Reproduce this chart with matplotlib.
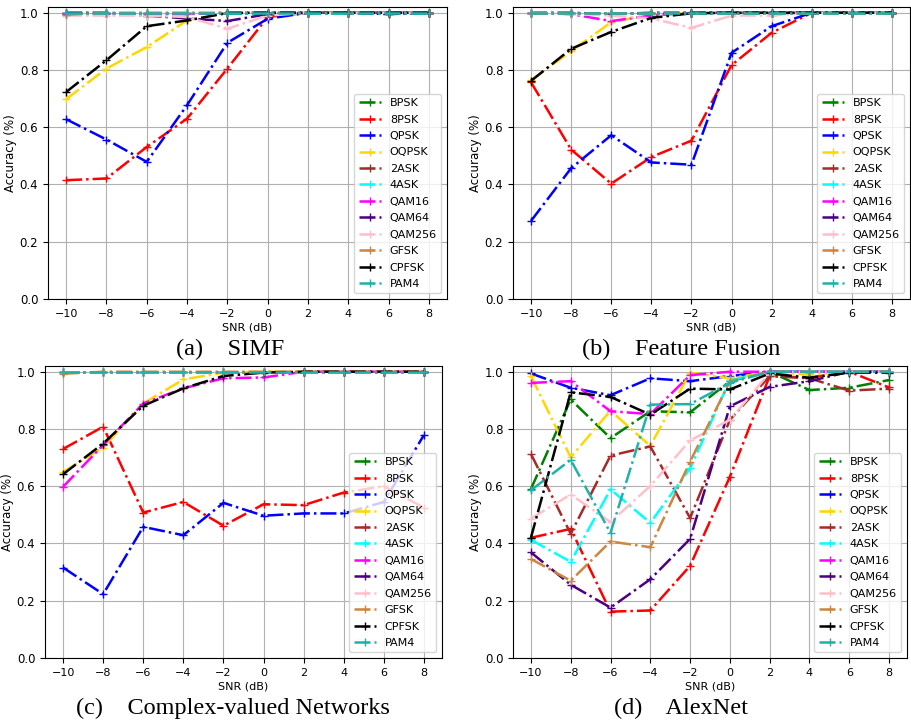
import matplotlib
matplotlib.use('Agg')
import matplotlib.pyplot as plt
import numpy as np

# SNR grid and modulation classes
snr = [-10, -8, -6, -4, -2, 0, 2, 4, 6, 8]
mods = ['BPSK', '8PSK', 'QPSK', 'OQPSK', '2ASK', '4ASK',
        'QAM16', 'QAM64', 'QAM256', 'GFSK', 'CPFSK', 'PAM4']
colors = ['green', 'red', 'blue', 'gold', 'brown', 'cyan',
          'magenta', 'indigo', 'pink', 'peru', 'black', 'lightseagreen']

# (a) SIMF
simf = {
    'BPSK':   [1.0, 1.0, 1.0, 1.0, 1.0, 1.0, 1.0, 1.0, 1.0, 1.0],
    '8PSK':   [0.415, 0.421, 0.531, 0.630, 0.805, 0.985, 1.0, 1.0, 1.0, 1.0],
    'QPSK':   [0.628, 0.557, 0.479, 0.677, 0.895, 0.979, 1.0, 1.0, 1.0, 1.0],
    'OQPSK':  [0.698, 0.805, 0.880, 0.973, 1.0, 1.0, 1.0, 1.0, 1.0, 1.0],
    '2ASK':   [1.0, 1.0, 1.0, 1.0, 1.0, 1.0, 1.0, 1.0, 1.0, 1.0],
    '4ASK':   [1.0, 1.0, 1.0, 1.0, 1.0, 1.0, 1.0, 1.0, 1.0, 1.0],
    'QAM16':  [0.995, 0.995, 0.995, 0.995, 1.0, 1.0, 1.0, 1.0, 1.0, 1.0],
    'QAM64':  [1.0, 1.0, 0.99, 0.98, 0.971, 0.995, 1.0, 1.0, 0.995, 1.0],
    'QAM256': [0.99, 0.99, 0.99, 0.985, 0.944, 0.99, 1.0, 1.0, 1.0, 1.0],
    'GFSK':   [0.993, 1.0, 1.0, 1.0, 1.0, 1.0, 1.0, 1.0, 1.0, 1.0],
    'CPFSK':  [0.723, 0.834, 0.953, 0.973, 0.999, 1.0, 1.0, 1.0, 1.0, 1.0],
    'PAM4':   [1.0, 1.0, 1.0, 1.0, 1.0, 1.0, 1.0, 1.0, 1.0, 1.0],
}

# (b) Feature Fusion
fusion = {
    'BPSK':   [1.0, 1.0, 1.0, 1.0, 1.0, 1.0, 1.0, 1.0, 1.0, 1.0],
    '8PSK':   [0.757, 0.522, 0.403, 0.496, 0.553, 0.817, 0.930, 1.0, 1.0, 1.0],
    'QPSK':   [0.273, 0.457, 0.572, 0.477, 0.469, 0.860, 0.953, 1.0, 1.0, 1.0],
    'OQPSK':  [0.764, 0.866, 0.967, 0.994, 1.0, 1.0, 1.0, 1.0, 1.0, 1.0],
    '2ASK':   [1.0, 1.0, 1.0, 1.0, 1.0, 1.0, 1.0, 1.0, 1.0, 1.0],
    '4ASK':   [1.0, 1.0, 1.0, 1.0, 1.0, 1.0, 1.0, 1.0, 1.0, 1.0],
    'QAM16':  [1.0, 0.995, 0.971, 0.99, 1.0, 1.0, 1.0, 1.0, 1.0, 1.0],
    'QAM64':  [1.0, 1.0, 0.995, 1.0, 1.0, 1.0, 1.0, 1.0, 1.0, 1.0],
    'QAM256': [1.0, 0.995, 0.99, 0.98, 0.947, 0.99, 0.99, 1.0, 1.0, 1.0],
    'GFSK':   [1.0, 1.0, 1.0, 1.0, 1.0, 1.0, 1.0, 1.0, 1.0, 1.0],
    'CPFSK':  [0.762, 0.874, 0.933, 0.982, 0.998, 1.0, 1.0, 1.0, 1.0, 1.0],
    'PAM4':   [1.0, 1.0, 1.0, 1.0, 1.0, 1.0, 1.0, 1.0, 1.0, 1.0],
}

# (c) Complex-valued Networks
complex_net = {
    'BPSK':   [1.0, 1.0, 1.0, 1.0, 1.0, 1.0, 1.0, 1.0, 1.0, 1.0],
    '8PSK':   [0.730, 0.808, 0.508, 0.545, 0.462, 0.537, 0.534, 0.578, 0.600, 0.525],
    'QPSK':   [0.316, 0.223, 0.458, 0.429, 0.542, 0.497, 0.505, 0.505, 0.545, 0.779],
    'OQPSK':  [0.650, 0.735, 0.889, 0.973, 0.997, 1.0, 1.0, 1.0, 1.0, 1.0],
    '2ASK':   [1.0, 1.0, 1.0, 1.0, 1.0, 1.0, 1.0, 1.0, 1.0, 1.0],
    '4ASK':   [1.0, 1.0, 1.0, 1.0, 1.0, 1.0, 1.0, 1.0, 1.0, 1.0],
    'QAM16':  [0.598, 0.744, 0.889, 0.942, 0.977, 0.980, 1.0, 1.0, 1.0, 1.0],
    'QAM64':  [1.0, 1.0, 1.0, 1.0, 1.0, 1.0, 1.0, 1.0, 1.0, 1.0],
    'QAM256': [1.0, 1.0, 1.0, 1.0, 1.0, 1.0, 1.0, 1.0, 1.0, 1.0],
    'GFSK':   [0.993, 1.0, 1.0, 1.0, 1.0, 1.0, 1.0, 1.0, 1.0, 1.0],
    'CPFSK':  [0.642, 0.749, 0.881, 0.942, 0.985, 0.997, 1.0, 1.0, 1.0, 1.0],
    'PAM4':   [1.0, 1.0, 1.0, 1.0, 1.0, 1.0, 1.0, 1.0, 1.0, 1.0],
}

# (d) AlexNet
alexnet = {
    'BPSK':   [0.590, 0.903, 0.768, 0.862, 0.858, 0.967, 1.0, 0.936, 0.944, 0.971],
    '8PSK':   [0.420, 0.451, 0.162, 0.166, 0.322, 0.633, 0.985, 0.979, 1.0, 0.945],
    'QPSK':   [0.994, 0.944, 0.918, 0.977, 0.967, 0.985, 1.0, 1.0, 1.0, 1.0],
    'OQPSK':  [0.985, 0.701, 0.864, 0.741, 0.997, 0.977, 1.0, 0.99, 1.0, 1.0],
    '2ASK':   [0.713, 0.434, 0.707, 0.739, 0.489, 0.832, 0.985, 0.977, 0.934, 0.941],
    '4ASK':   [0.413, 0.336, 0.589, 0.472, 0.662, 0.970, 1.0, 1.0, 1.0, 1.0],
    'QAM16':  [0.961, 0.967, 0.862, 0.852, 0.988, 1.0, 1.0, 1.0, 1.0, 1.0],
    'QAM64':  [0.369, 0.256, 0.176, 0.275, 0.416, 0.879, 0.947, 0.967, 1.0, 1.0],
    'QAM256': [0.487, 0.571, 0.475, 0.601, 0.760, 0.832, 0.997, 1.0, 1.0, 1.0],
    'GFSK':   [0.346, 0.270, 0.407, 0.387, 0.686, 0.967, 1.0, 1.0, 1.0, 1.0],
    'CPFSK':  [0.420, 0.928, 0.912, 0.850, 0.941, 0.938, 0.994, 0.979, 0.997, 0.997],
    'PAM4':   [0.586, 0.692, 0.437, 0.885, 0.887, 0.961, 1.0, 1.0, 1.0, 1.0],
}

panels = [simf, fusion, complex_net, alexnet]
captions = ['(a)    SIMF', '(b)    Feature Fusion',
            '(c)    Complex-valued Networks', '(d)    AlexNet']
caption_x = [230, 681, 233, 681]

# axes rectangles in pixels (left, top, right, bottom)
W, H = 912, 728
boxes = [(48, 7, 447, 299), (513, 7, 910, 299),
         (45, 366, 442, 658), (513, 366, 907, 658)]

fig = plt.figure(figsize=(9.12, 7.28), dpi=100)

for i, data in enumerate(panels):
    x0, y0, x1, y1 = boxes[i]
    ax = fig.add_axes([x0 / W, 1 - y1 / H, (x1 - x0) / W, (y1 - y0) / H])
    for m, c in zip(mods, colors):
        ax.plot(snr, data[m], linestyle='-.', marker='+', color=c,
                linewidth=1.8, markersize=6, label=m)
    ax.set_ylim(0, 1.02)
    ax.set_xticks(snr)
    ax.set_yticks([0.0, 0.2, 0.4, 0.6, 0.8, 1.0])
    ax.tick_params(axis='x', labelsize=8)
    ax.tick_params(axis='y', labelsize=8.5)
    ax.set_xlabel('SNR (dB)', fontsize=8, labelpad=3)
    ax.set_ylabel('Accuracy (%)', fontsize=8.5, labelpad=2)
    ax.grid(True)
    ax.legend(loc='lower right', fontsize=8, labelspacing=0.58)
    fig.text(caption_x[i] / W, 1 - (y1 + 50) / H, captions[i],
             ha='center', va='center', fontsize=17.5, family='Liberation Serif')

fig.savefig('out.png', dpi=100)
